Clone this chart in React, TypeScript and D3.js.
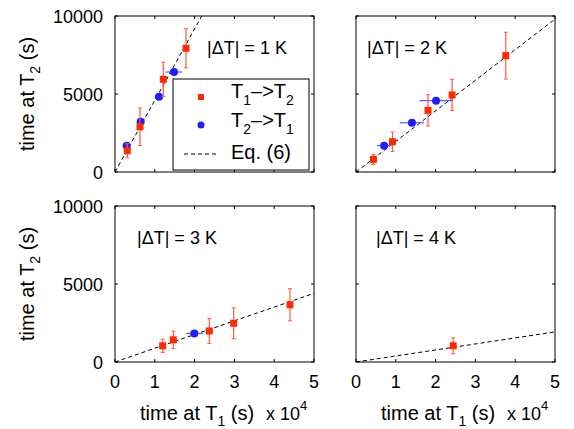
import React, { useEffect, useRef } from "react";
import * as d3 from "d3";

// panel labels and slope of Eq. (6) line
const panelLabels = ["|\u0394T| = 1 K", "|\u0394T| = 2 K", "|\u0394T| = 3 K", "|\u0394T| = 4 K"];
const eqSlopes = [0.459, 0.196, 0.088, 0.0386];

// T1 -> T2 (red squares): x, y, vertical error
const redX = [
  [3090, 6280, 12140, 17840],
  [4370, 9170, 18100, 24150, 37630],
  [11980, 14650, 23690, 29820, 43970],
  [24420],
];
const redY = [
  [1365, 2900, 5940, 7930],
  [810, 1940, 3950, 4940, 7460],
  [1040, 1420, 1990, 2480, 3670],
  [1040],
];
const redErr = [
  [450, 1200, 1100, 1250],
  [320, 620, 1000, 1000, 1500],
  [425, 560, 800, 990, 1030],
  [510],
];

// T2 -> T1 (blue circles): x, y, horizontal error
const blueX = [
  [2930, 6450, 11050, 14820],
  [7070, 14060, 20120],
  [19930],
  [],
];
const blueY = [
  [1690, 3220, 4830, 6410],
  [1690, 3160, 4570],
  [1830],
  [],
];
const blueErr = [
  [500, 600, 600, 2080],
  [1800, 3050, 4200],
  [2090],
  [],
];

const xTicks = [0, 10000, 20000, 30000, 40000, 50000];
const yTicks = [0, 5000, 10000];

const RED = "#ff2a00";
const RED_BAR = "#ff5a3c";
const BLUE = "#1c1cff";
const BLUE_BAR = "#5a5aff";
const FONT = "'Liberation Sans', Arial, Helvetica, sans-serif";

const App = () => {
  const svgRef = useRef<SVGSVGElement>(null);

  useEffect(() => {
    const svg = d3.select(svgRef.current);
    svg.selectAll("*").remove();

    const cols = [115, 356];
    const rows = [16, 206];
    const w = 199;
    const h = 156;

    [0, 1, 2, 3].forEach((p) => {
      const x0 = cols[p % 2];
      const y0 = rows[Math.floor(p / 2)];
      const xs = d3.scaleLinear().domain([0, 50000]).range([x0, x0 + w]);
      const ys = d3.scaleLinear().domain([0, 10000]).range([y0 + h, y0]);
      const g = svg.append("g");

      const clipId = "clip" + p;
      g.append("clipPath")
        .attr("id", clipId)
        .append("rect")
        .attr("x", x0)
        .attr("y", y0)
        .attr("width", w)
        .attr("height", h);

      // frame + inner ticks
      g.append("rect")
        .attr("x", x0)
        .attr("y", y0)
        .attr("width", w)
        .attr("height", h)
        .attr("fill", "white")
        .attr("stroke", "black")
        .attr("stroke-width", 1);
      xTicks.forEach((t) => {
        g.append("line").attr("x1", xs(t)).attr("x2", xs(t)).attr("y1", y0 + h).attr("y2", y0 + h - 3).attr("stroke", "black");
        g.append("line").attr("x1", xs(t)).attr("x2", xs(t)).attr("y1", y0).attr("y2", y0 + 3).attr("stroke", "black");
      });
      yTicks.forEach((t) => {
        g.append("line").attr("x1", x0).attr("x2", x0 + 3).attr("y1", ys(t)).attr("y2", ys(t)).attr("stroke", "black");
        g.append("line").attr("x1", x0 + w).attr("x2", x0 + w - 3).attr("y1", ys(t)).attr("y2", ys(t)).attr("stroke", "black");
      });

      // tick labels
      if (p % 2 === 0) {
        yTicks.forEach((t) => {
          g.append("text")
            .attr("x", x0 - 12)
            .attr("y", ys(t) + 6.5)
            .attr("text-anchor", "end")
            .attr("font-size", 18)
            .attr("font-family", FONT)
            .text(t);
        });
        const ty = g
          .append("text")
          .attr("transform", `translate(34,${y0 + h / 2}) rotate(-90)`)
          .attr("text-anchor", "middle")
          .attr("font-size", 20)
          .attr("font-family", FONT);
        ty.append("tspan").text("time at T");
        ty.append("tspan").attr("font-size", 14).attr("dy", 6).text("2");
        ty.append("tspan").attr("dy", -6).text(" (s)");
      }
      if (p >= 2) {
        xTicks.forEach((t) => {
          g.append("text")
            .attr("x", xs(t))
            .attr("y", y0 + h + 26)
            .attr("text-anchor", "middle")
            .attr("font-size", 18)
            .attr("font-family", FONT)
            .text(t / 10000);
        });
        const tx = g
          .append("text")
          .attr("x", x0 + 25)
          .attr("y", y0 + h + 58)
          .attr("font-size", 20)
          .attr("font-family", FONT);
        tx.append("tspan").text("time at T");
        tx.append("tspan").attr("font-size", 14).attr("dy", 6).text("1");
        tx.append("tspan").attr("dy", -6).text(" (s)");
        const ex = g
          .append("text")
          .attr("x", x0 + 151)
          .attr("y", y0 + h + 58)
          .attr("font-size", 18)
          .attr("font-family", FONT);
        ex.append("tspan").text("x 10");
        ex.append("tspan").attr("font-size", 13).attr("dy", -10).text("4");
      }

      // Eq. (6) line
      g.append("line")
        .attr("clip-path", `url(#${clipId})`)
        .attr("x1", xs(0))
        .attr("y1", ys(0))
        .attr("x2", xs(50000))
        .attr("y2", ys(50000 * eqSlopes[p]))
        .attr("stroke", "black")
        .attr("stroke-width", 1)
        .attr("stroke-dasharray", "4,3");

      // blue: horizontal error bars + circles
      blueX[p].forEach((bx, i) => {
        const by = ys(blueY[p][i]);
        g.append("line")
          .attr("x1", xs(bx - blueErr[p][i]))
          .attr("x2", xs(bx + blueErr[p][i]))
          .attr("y1", by)
          .attr("y2", by)
          .attr("stroke", BLUE_BAR)
          .attr("stroke-width", 1.2);
        g.append("circle").attr("cx", xs(bx)).attr("cy", by).attr("r", 4).attr("fill", BLUE);
      });

      // red: vertical error bars + squares
      redX[p].forEach((rx, i) => {
        const cx = xs(rx);
        const e = redErr[p][i];
        const yT = ys(redY[p][i] + e);
        const yB = ys(redY[p][i] - e);
        g.append("line").attr("x1", cx).attr("x2", cx).attr("y1", yT).attr("y2", yB).attr("stroke", RED_BAR).attr("stroke-width", 1.2);
        g.append("line").attr("x1", cx - 2).attr("x2", cx + 2).attr("y1", yT).attr("y2", yT).attr("stroke", RED_BAR);
        g.append("line").attr("x1", cx - 2).attr("x2", cx + 2).attr("y1", yB).attr("y2", yB).attr("stroke", RED_BAR);
        g.append("rect")
          .attr("x", cx - 3.5)
          .attr("y", ys(redY[p][i]) - 3.5)
          .attr("width", 7)
          .attr("height", 7)
          .attr("fill", RED);
      });

      // panel label
      const lx = [92, 11, 22, 20][p];
      g.append("text")
        .attr("x", x0 + lx)
        .attr("y", y0 + 38)
        .attr("font-size", 18)
        .attr("font-family", FONT)
        .text(panelLabels[p]);

      // legend in first panel
      if (p === 0) {
        const lg = g.append("g");
        lg.append("rect")
          .attr("x", 173)
          .attr("y", 79)
          .attr("width", 136)
          .attr("height", 91)
          .attr("fill", "white")
          .attr("stroke", "black");
        lg.append("rect").attr("x", 198).attr("y", 94).attr("width", 6).attr("height", 6).attr("fill", RED);
        lg.append("circle").attr("cx", 201).attr("cy", 125).attr("r", 3.5).attr("fill", BLUE);
        lg.append("line")
          .attr("x1", 184)
          .attr("x2", 218)
          .attr("y1", 154)
          .attr("y2", 154)
          .attr("stroke", "black")
          .attr("stroke-dasharray", "4,3");
        const legRow = (y: number, a: string, b: string) => {
          const t = lg.append("text").attr("x", 231).attr("y", y).attr("font-size", 20).attr("font-family", FONT);
          t.append("tspan").text("T");
          t.append("tspan").attr("font-size", 14).attr("dy", 7).text(a);
          t.append("tspan").attr("dy", -7).text("\u2013>T");
          t.append("tspan").attr("font-size", 14).attr("dy", 7).text(b);
        };
        legRow(98, "1", "2");
        legRow(127, "2", "1");
        lg.append("text").attr("x", 231).attr("y", 159).attr("font-size", 20).attr("font-family", FONT).text("Eq. (6)");
      }
    });
  }, []);

  return (
    <svg
      ref={svgRef}
      width={574}
      height={429}
      style={{ position: "absolute", left: 0, top: 0, background: "white" }}
    ></svg>
  );
};

export default App;
